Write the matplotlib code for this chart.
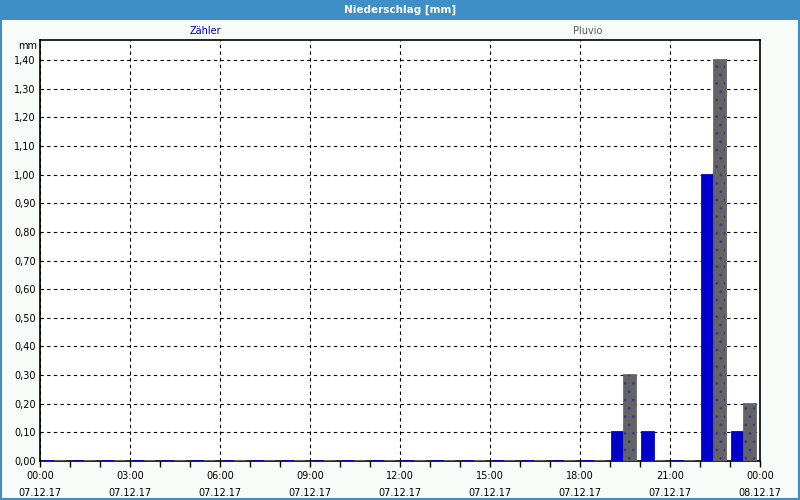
import numpy as np
import matplotlib.pyplot as plt
from matplotlib.patches import Rectangle
from matplotlib.ticker import MultipleLocator, FuncFormatter

plt.rcParams['font.family'] = ['DejaVu Sans']
plt.rcParams['hatch.color'] = '#3a3a9a'
plt.rcParams['hatch.linewidth'] = 0.8

hours = np.arange(24)
zaehler = [0, 0, 0, 0, 0, 0, 0, 0, 0, 0, 0, 0,
           0, 0, 0, 0, 0, 0, 0, 0.1, 0.1, 0, 1.0, 0.1]
pluvio = [0, 0, 0, 0, 0, 0, 0, 0, 0, 0, 0, 0,
          0, 0, 0, 0, 0, 0, 0, 0.3, 0, 0, 1.4, 0.2]
tick_times = ['00:00', '03:00', '06:00', '09:00', '12:00', '15:00', '18:00', '21:00', '00:00']
tick_dates = ['07.12.17'] * 8 + ['08.12.17']

blue = '#0000c8'
gray = '#646464'
frame = '#3d8fc6'

fig = plt.figure(figsize=(8, 5), dpi=100, facecolor='#f8fcf8')
ax = fig.add_axes([40 / 800, 1 - 461 / 500, 720 / 800, 421 / 500])
ax.set_facecolor('white')

# title bar and outer frame
fig.patches.append(Rectangle((0, 1 - 20 / 500), 1, 20 / 500, transform=fig.transFigure,
                             facecolor=frame, edgecolor='none', zorder=0))
fig.patches.append(Rectangle((0.001, 0.002), 0.998, 0.99, transform=fig.transFigure,
                             facecolor='none', edgecolor=frame, linewidth=1.5, zorder=0))
fig.text(0.5, 1 - 10 / 500, 'Niederschlag [mm]', color='white', fontsize=7.5,
         fontweight='bold', ha='center', va='center')
fig.text(205 / 800, 1 - 31 / 500, 'Zähler', color='#0000c8', fontsize=7, ha='center', va='center')
fig.text(588 / 800, 1 - 31 / 500, 'Pluvio', color='#5a5a5a', fontsize=7, ha='center', va='center')
fig.text(37 / 800, 1 - 46 / 500, 'mm', color='black', fontsize=7, ha='right', va='center')

w = 0.37
ax.bar(hours + 0.07, zaehler, width=w, align='edge', color=blue, edgecolor=blue,
       linewidth=2, zorder=5)
ax.bar(hours + 0.47, pluvio, width=w, align='edge', color=gray, edgecolor=gray,
       linewidth=2, zorder=5)
ax.bar(hours + 0.47, pluvio, width=w, align='edge', facecolor='none', hatch='..',
       linewidth=0, zorder=6)

ax.set_xlim(0, 24)
ax.set_ylim(0, 1.47)
ax.xaxis.set_minor_locator(MultipleLocator(1))
ax.yaxis.set_major_locator(MultipleLocator(0.1))
ax.set_xticks(np.arange(0, 25, 3))
ax.set_xticklabels([t + '\n' + d for t, d in zip(tick_times, tick_dates)], fontsize=7,
                   linespacing=1.9)
ax.yaxis.set_major_formatter(FuncFormatter(lambda v, p: f'{v:.2f}'.replace('.', ',')))
ax.tick_params(axis='y', length=0, labelsize=7, pad=3)
ax.tick_params(axis='x', which='both', length=4, width=1, direction='out', pad=3)
ax.grid(True, which='major', color='black', linestyle=(0, (3, 3)), linewidth=0.8)
for s in ax.spines.values():
    s.set_linewidth(1.2)

fig.savefig('out.png', dpi=100, facecolor=fig.get_facecolor())
